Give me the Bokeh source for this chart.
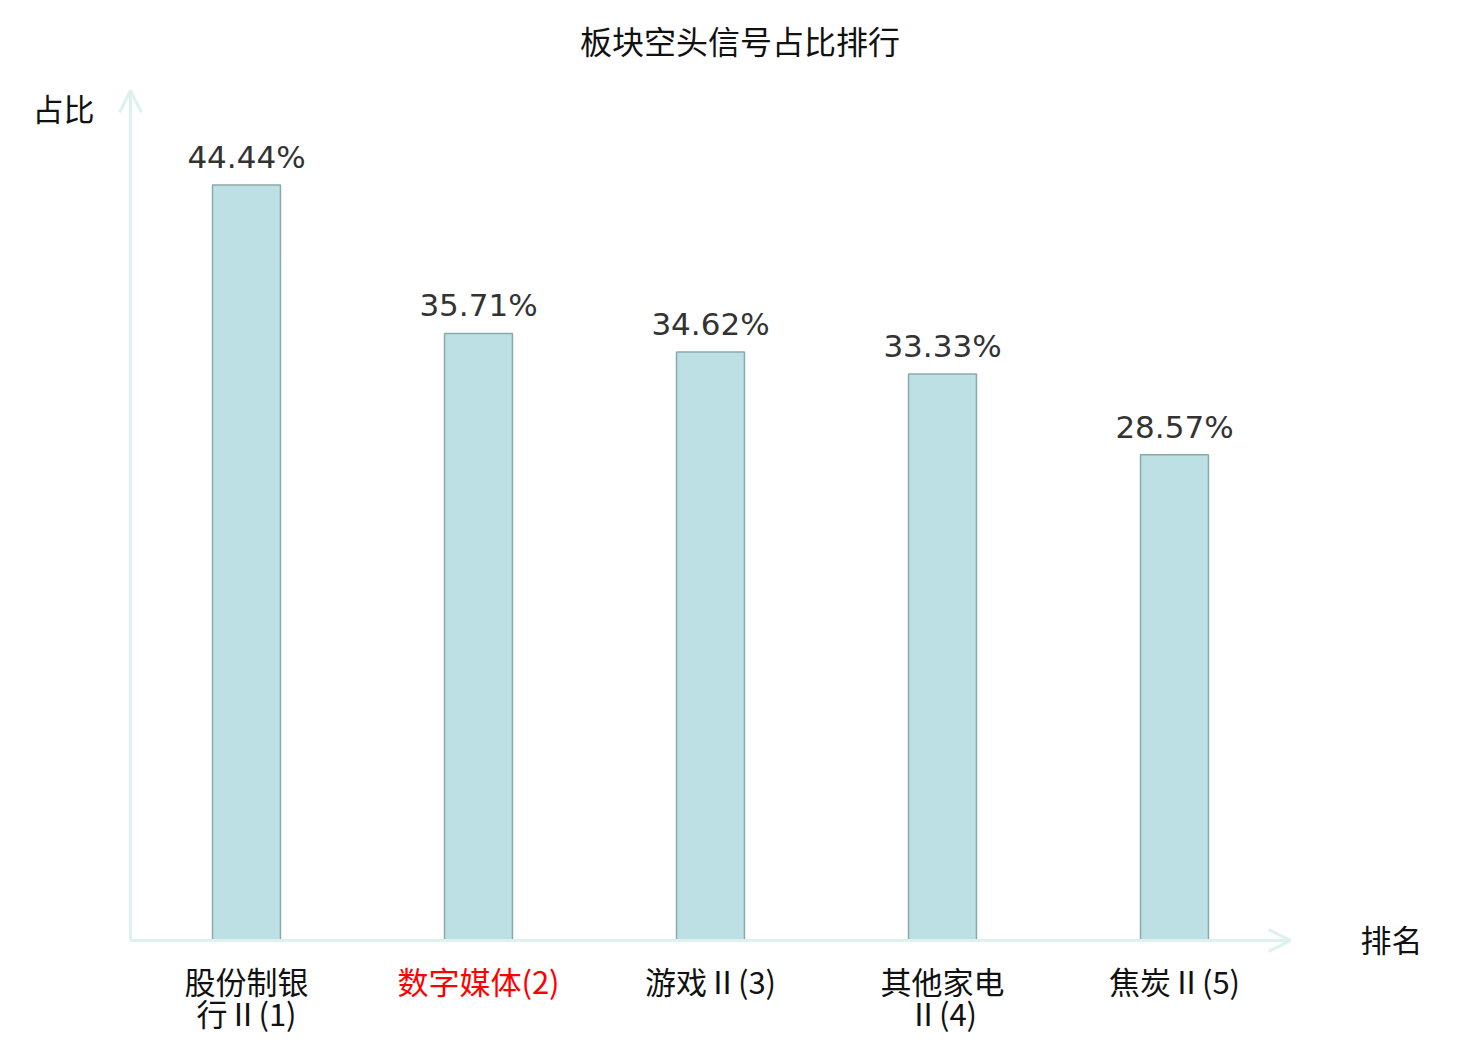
from bokeh.plotting import figure
from bokeh.models import ColumnDataSource, LabelSet, Label, Arrow, OpenHead, Range1d
from bokeh.core.properties import value
from bokeh.embed import file_html
from bokeh.resources import INLINE

# ---- data ----
categories = ["股份制银\n行Ⅱ(1)", "数字媒体(2)", "游戏Ⅱ(3)", "其他家电\nⅡ(4)", "焦炭Ⅱ(5)"]
shares = [44.44, 35.71, 34.62, 33.33, 28.57]
share_labels = ["44.44%", "35.71%", "34.62%", "33.33%", "28.57%"]
label_colors = ["#111111", "#ff0000", "#111111", "#111111", "#111111"]
title_text = "板块空头信号占比排行"
y_title = "占比"
x_title = "排名"

CJK = "Noto Sans CJK SC"
W, H = 1472, 1040

# pixel geometry of the plotting area (frame fills the canvas so that
# annotations outside the axes are not clipped)
X0_PX, STEP_PX = 246.0, 232.0     # centre of first bar, spacing
Y0_PX, UNIT_PX = 940.0, 17.0      # baseline, pixels per percent

idx = list(range(len(categories)))
line1 = [c.split("\n")[0] for c in categories]
line2 = [c.split("\n")[1] if "\n" in c else "" for c in categories]

src = ColumnDataSource(dict(x=idx, top=shares, lab=share_labels,
                            l1=line1, l2=line2, col=label_colors,
                            y1=[-(980 - Y0_PX) / UNIT_PX] * len(idx),
                            y2=[-(1012 - Y0_PX) / UNIT_PX] * len(idx)))

p = figure(width=W, height=H,
           x_range=Range1d(-X0_PX / STEP_PX, (W - X0_PX) / STEP_PX),
           y_range=Range1d((Y0_PX - H) / UNIT_PX, Y0_PX / UNIT_PX),
           output_backend="svg", toolbar_location=None,
           min_border=0, min_border_left=0, min_border_right=0,
           min_border_top=0, min_border_bottom=0)
p.outline_line_color = None
p.xgrid.visible = False
p.ygrid.visible = False
p.xaxis.visible = False
p.yaxis.visible = False
p.background_fill_color = "white"
p.border_fill_color = "white"

axis_col = "#ddf1ee"
p.add_layout(Arrow(x_start=-0.5, y_start=0, x_end=len(idx) - 0.5, y_end=0,
                   line_color=axis_col, line_width=3,
                   end=OpenHead(size=22, line_color=axis_col, line_width=3)))
p.add_layout(Arrow(x_start=-0.5, y_start=0, x_end=-0.5, y_end=50,
                   line_color=axis_col, line_width=3,
                   end=OpenHead(size=22, line_color=axis_col, line_width=3)))

p.vbar(x="x", top="top", width=0.293, source=src, fill_color="#bce0e3",
       line_color="#8aa9aa", line_width=1.5)

p.text(x="x", y="top", text="lab", source=src, text_align="center",
       text_baseline="alphabetic", y_offset=-28, text_font=value("DejaVu Sans"),
       text_font_size="31px", text_color="#333333")

for ycol, tcol in (("y1", "l1"), ("y2", "l2")):
    p.add_layout(LabelSet(x="x", y=ycol, text=tcol, source=src, text_align="center",
                          text_baseline="middle", text_font=value(CJK),
                          text_font_size=value("31px"), text_color="col"))

p.add_layout(Label(x=739.5, y=H - 39, x_units="screen", y_units="screen",
                   text=title_text, text_align="center", text_baseline="middle",
                   text_font=CJK, text_font_size="32px", text_color="#111111"))
p.add_layout(Label(x=63, y=H - 107, x_units="screen", y_units="screen",
                   text=y_title, text_align="center", text_baseline="middle",
                   text_font=CJK, text_font_size="31px", text_color="#111111"))
p.add_layout(Label(x=1391, y=H - 938, x_units="screen", y_units="screen",
                   text=x_title, text_align="center", text_baseline="middle",
                   text_font=CJK, text_font_size="31px", text_color="#111111"))

open("out.html", "w").write(file_html(p, INLINE))
